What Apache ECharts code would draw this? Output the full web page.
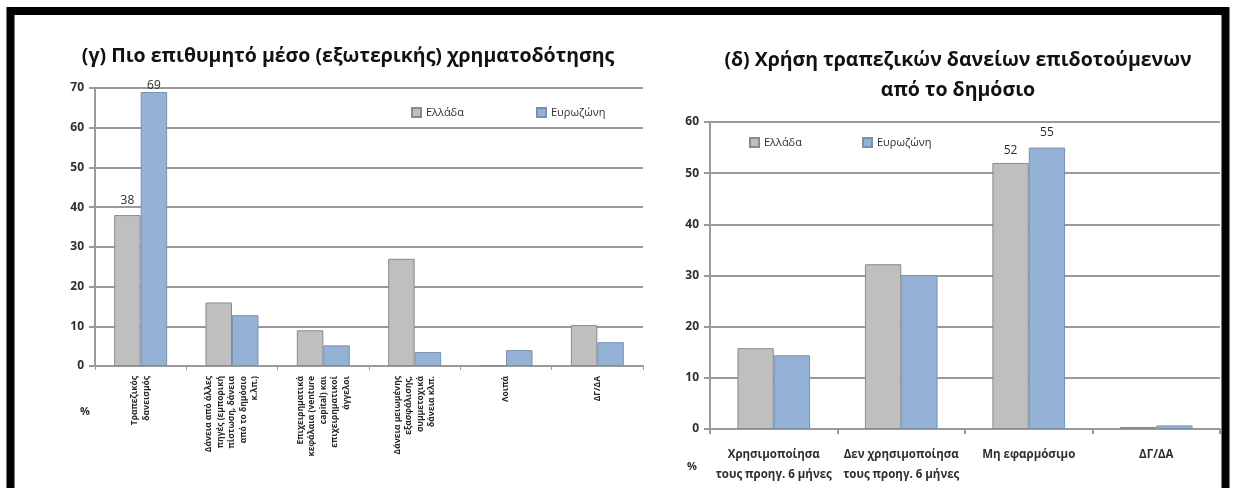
<!DOCTYPE html>
<html>
<head>
<meta charset="utf-8">
<script src="https://cdn.jsdelivr.net/npm/echarts@6/dist/echarts.min.js"></script>
<style>
  html, body { margin: 0; padding: 0; background: #ffffff; }
  #chart { width: 1233px; height: 488px; }
</style>
</head>
<body>
<div id="chart"></div>
<script>
// (γ) Most desired means of external financing, % of firms
const leftCategories = [
  'Τραπεζικός\nδανεισμός',
  'Δάνεια από άλλες\nπηγές (εμπορική\nπίστωση, δάνεια\nαπό το δημόσιο\nκ.λπ.)',
  'Επιχειρηματικά\nκεφάλαια (venture\ncapital) και\nεπιχειρηματικοί\nάγγελοι',
  'Δάνεια μειωμένης\nεξασφάλισης,\nσυμμετοχικά\nδάνεια κλπ.',
  'Λοιπά',
  'ΔΓ/ΔΑ'
];
const leftGreece = [38, 16, 9, 27, 0, 10.3];
const leftEurozone = [69, 12.8, 5.2, 3.5, 4, 6];
const leftLabelled = [0];

// (δ) Use of publicly subsidised bank loans, % of firms
const rightCategories = [
  'Χρησιμοποίησα\nτους προηγ. 6 μήνες',
  'Δεν χρησιμοποίησα\nτους προηγ. 6 μήνες',
  'Μη εφαρμόσιμο',
  'ΔΓ/ΔΑ'
];
const rightGreece = [15.8, 32.2, 52, 0.4];
const rightEurozone = [14.4, 30.1, 55, 0.7];
const rightLabelled = [2];

const seriesNames = ['Ελλάδα', 'Ευρωζώνη'];
const leftTitle = '(γ) Πιο επιθυμητό μέσο (εξωτερικής) χρηματοδότησης';
const rightTitleLines = ['(δ) Χρήση τραπεζικών δανείων επιδοτούμενων', 'από το δημόσιο'];

const FONT = '"Open Sans", "Noto Sans", sans-serif';
const GREY = '#bfbfbf';
const GREY_EDGE = '#8a8a8a';
const BLUE = '#94b2d6';
const BLUE_EDGE = '#7a90b0';
const GRID_LINE = '#9a9a9a';
const TEXT = '#2e2e2e';

function withLabels(values, labelled, distance) {
  return values.map((v, i) => labelled.includes(i)
    ? { value: v, label: { show: true, distance: distance } }
    : v);
}

function barSeries(name, values, labelled, distance, axisIdx, color, edge, gap) {
  return {
    name: name,
    type: 'bar',
    xAxisIndex: axisIdx,
    yAxisIndex: axisIdx,
    data: withLabels(values, labelled, distance),
    barGap: '0%',
    barCategoryGap: gap,
    itemStyle: { color: color, borderColor: edge, borderWidth: 1 },
    label: {
      show: false,
      position: 'top',
      color: TEXT,
      fontFamily: FONT,
      fontSize: 12
    },
    emphasis: { disabled: true },
    animation: false
  };
}

function valueAxis(gridIdx, max) {
  return {
    type: 'value',
    gridIndex: gridIdx,
    min: 0,
    max: max,
    interval: 10,
    axisLine: { show: true, lineStyle: { color: GRID_LINE, width: 2 } },
    axisTick: { show: true, length: 6, lineStyle: { color: GRID_LINE, width: 2 } },
    splitLine: { show: true, lineStyle: { color: GRID_LINE, width: 2 } },
    axisLabel: {
      margin: 11,
      color: TEXT,
      fontFamily: FONT,
      fontWeight: 'bold',
      fontSize: 12
    }
  };
}

function legendFor(name, x, y) {
  return {
    data: [name],
    left: x,
    top: y,
    itemWidth: 9,
    itemHeight: 9,
    itemGap: 0,
    icon: 'rect',
    textStyle: { color: TEXT, fontFamily: FONT, fontSize: 11 },
    selectedMode: false
  };
}

const chart = echarts.init(document.getElementById('chart'), null, { renderer: 'canvas' });

chart.setOption({
  backgroundColor: '#ffffff',
  animation: false,
  grid: [
    { left: 95, top: 88, width: 548, height: 278 },
    { left: 710, top: 122, width: 510, height: 307 }
  ],
  xAxis: [
    {
      type: 'category',
      gridIndex: 0,
      data: leftCategories,
      axisLine: { lineStyle: { color: GRID_LINE, width: 2 } },
      axisTick: { show: true, length: 4, lineStyle: { color: GRID_LINE } },
      axisLabel: {
        interval: 0,
        rotate: 90,
        margin: 10,
        color: '#262626',
        fontFamily: FONT,
        fontWeight: 'bold',
        fontSize: 8.5,
        lineHeight: 11.5,
        align: 'right'
      }
    },
    {
      type: 'category',
      gridIndex: 1,
      data: rightCategories,
      axisLine: { lineStyle: { color: GRID_LINE, width: 2 } },
      axisTick: { show: true, length: 5, lineStyle: { color: GRID_LINE, width: 2 } },
      axisLabel: {
        interval: 0,
        margin: 16,
        color: TEXT,
        fontFamily: FONT,
        fontWeight: 'bold',
        fontSize: 11.5,
        lineHeight: 20
      }
    }
  ],
  yAxis: [valueAxis(0, 70), valueAxis(1, 60)],
  legend: [
    legendFor(seriesNames[0], 406, 102),
    legendFor(seriesNames[1], 531, 102),
    legendFor(seriesNames[0], 744, 132),
    legendFor(seriesNames[1], 857, 132)
  ],
  series: [
    barSeries(seriesNames[0], leftGreece, leftLabelled, 9, 0, GREY, GREY_EDGE, '42%'),
    barSeries(seriesNames[1], leftEurozone, leftLabelled, 0, 0, BLUE, BLUE_EDGE, '42%'),
    barSeries(seriesNames[0], rightGreece, rightLabelled, 6, 1, GREY, GREY_EDGE, '43%'),
    barSeries(seriesNames[1], rightEurozone, rightLabelled, 9, 1, BLUE, BLUE_EDGE, '43%')
  ],
  graphic: [
    // surrounding frame
    {
      type: 'rect',
      shape: { x: 10.5, y: 11, width: 1215, height: 500 },
      style: { fill: null, stroke: '#000000', lineWidth: 8 },
      silent: true,
      z: 100
    },
    {
      type: 'text',
      x: 348, y: 56,
      style: {
        text: leftTitle,
        fill: '#111111',
        font: 'bold 19.5px ' + FONT,
        textAlign: 'center',
        textVerticalAlign: 'middle'
      }
    },
    {
      type: 'text',
      x: 958, y: 60,
      style: {
        text: rightTitleLines[0],
        fill: '#111111',
        font: 'bold 19.5px ' + FONT,
        textAlign: 'center',
        textVerticalAlign: 'middle'
      }
    },
    {
      type: 'text',
      x: 958, y: 90,
      style: {
        text: rightTitleLines[1],
        fill: '#111111',
        font: 'bold 19.5px ' + FONT,
        textAlign: 'center',
        textVerticalAlign: 'middle'
      }
    },
    {
      type: 'text',
      x: 85, y: 412,
      style: { text: '%', fill: TEXT, font: 'bold 11px ' + FONT, textAlign: 'center', textVerticalAlign: 'middle' }
    },
    {
      type: 'text',
      x: 692, y: 467,
      style: { text: '%', fill: TEXT, font: 'bold 11px ' + FONT, textAlign: 'center', textVerticalAlign: 'middle' }
    }
  ]
});
</script>
</body>
</html>
